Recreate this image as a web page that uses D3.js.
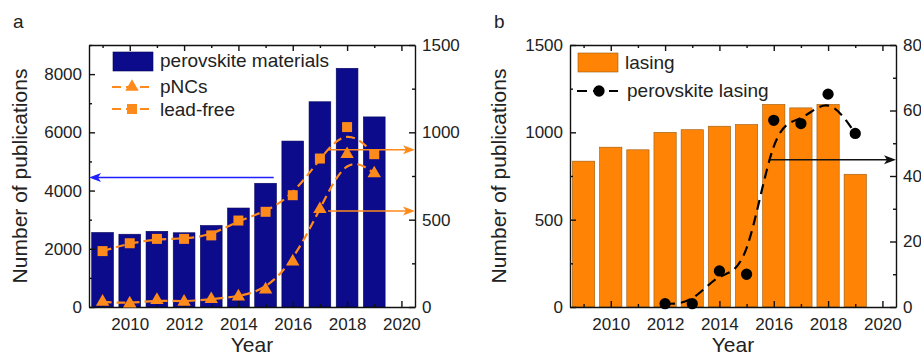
<!DOCTYPE html>
<html>
<head>
<meta charset="utf-8">
<script src="https://cdn.jsdelivr.net/npm/d3@7"></script>
<style>
  html, body { margin: 0; padding: 0; background: #fff; }
  svg { display: block; font-family: Arial, "Liberation Sans", Helvetica, sans-serif; }
  .axis path, .axis line { stroke: #111; stroke-width: 1.4; }
  .axis text { fill: #222; font-size: 17px; }
</style>
</head>
<body>
<svg id="chart" width="921" height="358"></svg>
<script>
// ---- data ----
const years = [2009, 2010, 2011, 2012, 2013, 2014, 2015, 2016, 2017, 2018, 2019];
const perovskiteMaterials = [2560, 2500, 2600, 2550, 2800, 3400, 4250, 5700, 7050, 8200, 6530];
const pNCs = [30, 20, 40, 30, 45, 60, 100, 260, 560, 875, 765];
const leadFree = [320, 365, 390, 390, 410, 495, 545, 640, 850, 1030, 875];

const lasing = [835, 915, 900, 1000, 1015, 1035, 1045, 1160, 1140, 1160, 760];
const lasingYears = [2012, 2013, 2014, 2015, 2016, 2017, 2018, 2019];
const perovskiteLasing = [1, 1, 11, 10, 57, 56, 65, 53];

const xTicks = [2010, 2012, 2014, 2016, 2018, 2020];
const xMinorTicks = [2009, 2011, 2013, 2015, 2017, 2019];
const yTicksA = [0, 2000, 4000, 6000, 8000];
const yTicksARight = [0, 500, 1000, 1500];
const yTicksB = [0, 500, 1000, 1500];
const yTicksBRight = [0, 20, 40, 60, 80];

// arrows pointing from a curve to the axis it is read on (data units)
const arrowsA = [
  { from: 2015.3, to: 2008.5, value: 4450, axis: "left", color: "#1f1fff" },
  { from: 2017.3, to: 2020.5, value: 900, axis: "right", color: "#ff8a1c" },
  { from: 2017.3, to: 2020.5, value: 550, axis: "right", color: "#ff8a1c" }
];
const arrowsB = [
  { from: 2015.85, to: 2020.5, value: 45, axis: "right", color: "#111" }
];

const ORANGE = "#ff8a1c";
const NAVY = "#0b0b8c";
const BAR_ORANGE = "#ff8405";
const fmt = d3.format("d");

const svg = d3.select("#chart");

function makePanel(opts) {
  const { left, right, top, bottom } = opts;
  const g = svg.append("g");
  const x = d3.scaleLinear().domain([2008.5, 2020.5]).range([left, right]);
  const yL = d3.scaleLinear().domain(opts.leftDomain).range([bottom, top]);
  const yR = d3.scaleLinear().domain(opts.rightDomain).range([bottom, top]);
  const bw = (x(2009) - x(2008.5)) * 2 * opts.barFrac;

  // bars
  g.append("g").selectAll("rect").data(opts.bars).join("rect")
    .attr("x", (d, i) => x(years[i]) - bw / 2)
    .attr("width", bw)
    .attr("y", d => yL(d))
    .attr("height", d => yL(0) - yL(d))
    .attr("fill", opts.barColor)
    .attr("stroke", opts.barStroke)
    .attr("stroke-width", 0.6);

  // axes
  const minorX = (ax) => ax.tickValues(xMinorTicks).tickSize(-3).tickSizeOuter(0).tickFormat("");
  g.append("g").attr("class", "axis").attr("transform", `translate(0,${bottom})`)
    .call(d3.axisBottom(x).tickValues(xTicks).tickSize(-6).tickSizeOuter(0).tickPadding(11).tickFormat(fmt));
  g.append("g").attr("class", "axis").attr("transform", `translate(0,${bottom})`)
    .call(minorX(d3.axisBottom(x))).select(".domain").remove();
  g.append("g").attr("class", "axis").attr("transform", `translate(0,${top})`)
    .call(d3.axisTop(x).tickValues(xTicks).tickSize(-6).tickSizeOuter(0).tickFormat(""));
  g.append("g").attr("class", "axis").attr("transform", `translate(0,${top})`)
    .call(minorX(d3.axisTop(x))).select(".domain").remove();

  g.append("g").attr("class", "axis").attr("transform", `translate(${left},0)`)
    .call(d3.axisLeft(yL).tickValues(opts.leftTicks).tickSize(-6).tickSizeOuter(0).tickPadding(7).tickFormat(fmt));
  g.append("g").attr("class", "axis").attr("transform", `translate(${left},0)`)
    .call(d3.axisLeft(yL).tickValues(opts.leftMinor).tickSize(-3).tickSizeOuter(0).tickFormat(""))
    .select(".domain").remove();
  g.append("g").attr("class", "axis").attr("transform", `translate(${right},0)`)
    .call(d3.axisRight(yR).tickValues(opts.rightTicks).tickSize(-6).tickSizeOuter(0).tickPadding(7).tickFormat(fmt));
  g.append("g").attr("class", "axis").attr("transform", `translate(${right},0)`)
    .call(d3.axisRight(yR).tickValues(opts.rightMinor).tickSize(-3).tickSizeOuter(0).tickFormat(""))
    .select(".domain").remove();

  // axis titles
  g.append("text")
    .attr("transform", `translate(${opts.titleX},${(top + bottom) / 2}) rotate(-90)`)
    .attr("text-anchor", "middle").attr("font-size", 21).attr("fill", "#222")
    .text("Number of publications");
  g.append("text")
    .attr("x", (left + right) / 2).attr("y", 352)
    .attr("text-anchor", "middle").attr("font-size", 21).attr("fill", "#222")
    .text("Year");
  g.append("text")
    .attr("x", opts.tagX).attr("y", 28)
    .attr("font-size", 19).attr("fill", "#222")
    .text(opts.tag);

  return { g, x, yL, yR };
}

function drawSeries(g, x, y, xs, vals, color, symbol, size, dash) {
  const line = d3.line().x((d, i) => x(xs[i])).y(d => y(d)).curve(d3.curveBasis);
  g.append("path").datum(vals)
    .attr("d", line)
    .attr("fill", "none")
    .attr("stroke", color)
    .attr("stroke-width", 2.2)
    .attr("stroke-dasharray", dash);
  g.append("g").selectAll("path").data(vals).join("path")
    .attr("transform", (d, i) => `translate(${x(xs[i])},${y(d)})`)
    .attr("d", d3.symbol().type(symbol).size(size)())
    .attr("fill", color);
}

function drawArrows(g, x, yL, yR, list) {
  list.forEach(a => {
    const y = (a.axis === "left" ? yL : yR)(a.value);
    const x0 = x(a.from), x1 = x(a.to);
    const dir = Math.sign(x1 - x0);
    g.append("line")
      .attr("x1", x0).attr("y1", y).attr("x2", x1 - dir * 6).attr("y2", y)
      .attr("stroke", a.color).attr("stroke-width", 1.5);
    const L = 12, W = 4.5, N = 9;
    g.append("path")
      .attr("d", `M${x1},${y} L${x1 - dir * L},${y - W} L${x1 - dir * N},${y} L${x1 - dir * L},${y + W} Z`)
      .attr("fill", a.color);
  });
}

// ---- panel a ----
const A = makePanel({
  left: 89, right: 415, top: 45, bottom: 307,
  leftDomain: [0, 9000], rightDomain: [0, 1500],
  leftTicks: yTicksA, leftMinor: [1000, 3000, 5000, 7000, 9000],
  rightTicks: yTicksARight, rightMinor: [250, 750, 1250],
  bars: perovskiteMaterials, barColor: NAVY, barStroke: "#05055a", barFrac: 0.8,
  titleX: 27, tagX: 13, tag: "a"
});
drawSeries(A.g, A.x, A.yR, years, leadFree, ORANGE, d3.symbolSquare, 100, "9,5");
drawSeries(A.g, A.x, A.yR, years, pNCs, ORANGE, d3.symbolTriangle, 78, "9,5");
drawArrows(A.g, A.x, A.yL, A.yR, arrowsA);

// legend a
{
  const g = A.g;
  g.append("rect").attr("x", 113).attr("y", 52).attr("width", 40).attr("height", 19)
    .attr("fill", NAVY).attr("stroke", "#05055a").attr("stroke-width", 0.6);
  g.append("text").attr("x", 160).attr("y", 67).attr("font-size", 19).attr("fill", "#222").text("perovskite materials");
  const items = [
    { y: 87, sym: d3.symbolTriangle, size: 78, label: "pNCs", ty: 93 },
    { y: 109, sym: d3.symbolSquare, size: 100, label: "lead-free", ty: 116 }
  ];
  items.forEach(it => {
    g.append("line").attr("x1", 112).attr("x2", 152).attr("y1", it.y).attr("y2", it.y)
      .attr("stroke", ORANGE).attr("stroke-width", 2.2).attr("stroke-dasharray", "9,5");
    g.append("path").attr("transform", `translate(132,${it.y})`)
      .attr("d", d3.symbol().type(it.sym).size(it.size)()).attr("fill", ORANGE);
    g.append("text").attr("x", 160).attr("y", it.ty).attr("font-size", 19).attr("fill", "#222").text(it.label);
  });
}

// ---- panel b ----
const B = makePanel({
  left: 570, right: 896, top: 45, bottom: 307,
  leftDomain: [0, 1500], rightDomain: [0, 80],
  leftTicks: yTicksB, leftMinor: [250, 750, 1250],
  rightTicks: yTicksBRight, rightMinor: [10, 30, 50, 70],
  bars: lasing, barColor: BAR_ORANGE, barStroke: "#9a5a10", barFrac: 0.82,
  titleX: 506, tagX: 494, tag: "b"
});
drawSeries(B.g, B.x, B.yR, lasingYears, perovskiteLasing, "#000", d3.symbolCircle, 100, "10,6");
drawArrows(B.g, B.x, B.yL, B.yR, arrowsB);

// legend b
{
  const g = B.g;
  g.append("rect").attr("x", 578).attr("y", 53).attr("width", 40).attr("height", 19)
    .attr("fill", BAR_ORANGE).attr("stroke", "#9a5a10").attr("stroke-width", 0.6);
  g.append("text").attr("x", 625).attr("y", 69).attr("font-size", 19).attr("fill", "#222").text("lasing");
  g.append("line").attr("x1", 577).attr("x2", 618).attr("y1", 91).attr("y2", 91)
    .attr("stroke", "#000").attr("stroke-width", 2.2).attr("stroke-dasharray", "10,6");
  g.append("path").attr("transform", "translate(599,91)")
    .attr("d", d3.symbol().type(d3.symbolCircle).size(100)()).attr("fill", "#000");
  g.append("text").attr("x", 627).attr("y", 97).attr("font-size", 19).attr("fill", "#222").text("perovskite lasing");
}
</script>
</body>
</html>
